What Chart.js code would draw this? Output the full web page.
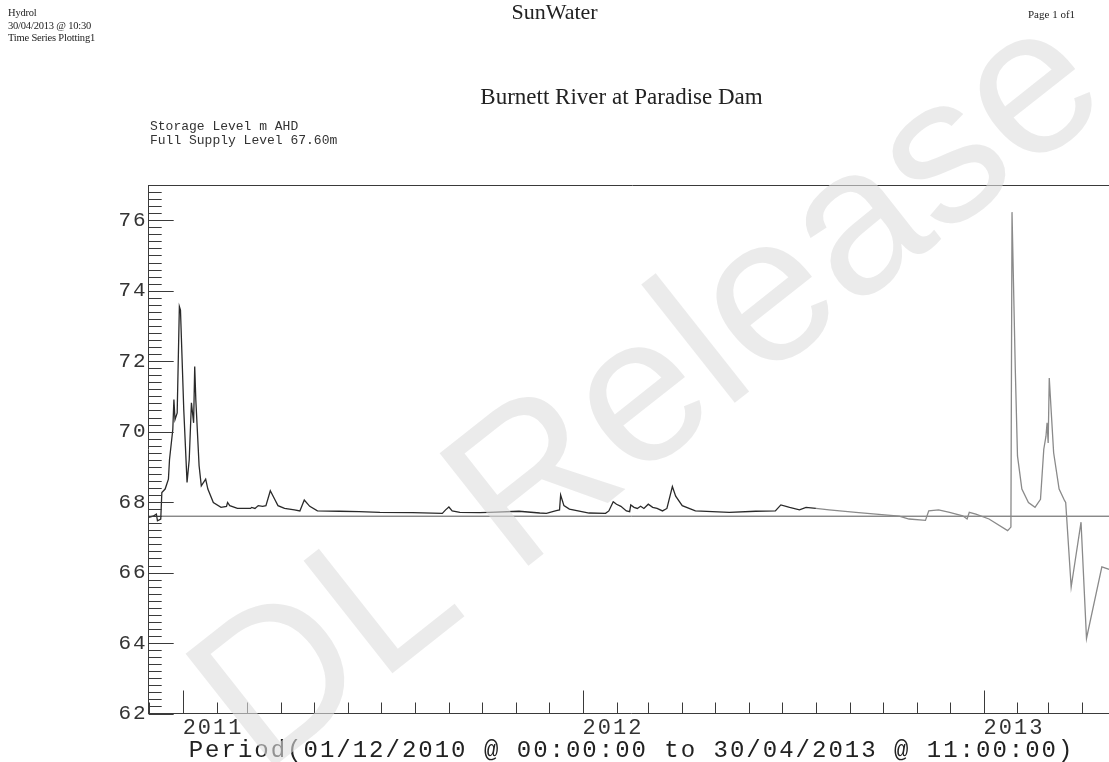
<!DOCTYPE html>
<html>
<head>
<meta charset="utf-8">
<title>Burnett River at Paradise Dam</title>
<script src="https://cdn.jsdelivr.net/npm/chart.js@4.4.1/dist/chart.umd.min.js"></script>
<style>
  html, body { margin: 0; padding: 0; background: #fff; overflow: hidden; }
  #page { position: relative; width: 1109px; height: 762px; overflow: hidden; }
  .serif { position: absolute; font-family: "Liberation Serif", "Times New Roman", serif; color: #222; white-space: nowrap; }
  .mono { position: absolute; font-family: "Liberation Mono", "Courier New", monospace; color: #333; white-space: nowrap; }
  canvas { position: absolute; left: 0; top: 0; }
</style>
</head>
<body>
<div id="page">
  <canvas id="levelChart" width="1116" height="762"></canvas>
  <div class="serif" style="left:8px;top:7px;font-size:10.5px;line-height:12.5px;letter-spacing:-0.2px">Hydrol<br>30/04/2013 @ 10:30<br>Time Series Plotting1</div>
  <div class="serif" style="left:0;top:0;width:1109px;text-align:center;font-size:22px;line-height:24px">SunWater</div>
  <div class="serif" style="left:1028px;top:8px;font-size:11px;line-height:13px">Page 1 of1</div>
  <div class="serif" style="left:0;top:85px;width:1243px;text-align:center;font-size:23px;line-height:24px">Burnett River at Paradise Dam</div>
  <div class="mono" style="left:150px;top:120px;font-size:13px;line-height:14px">Storage Level m AHD<br>Full Supply Level 67.60m</div>
</div>
<script>
// storage level series (m AHD)
const dates = [
  "2010-12-01","2010-12-05","2010-12-08","2010-12-09","2010-12-12","2010-12-13","2010-12-16","2010-12-19","2010-12-20","2010-12-23","2010-12-24","2010-12-25","2010-12-27","2010-12-29","2010-12-30",
  "2011-01-02","2011-01-05","2011-01-07","2011-01-09","2011-01-11","2011-01-12","2011-01-13","2011-01-16","2011-01-18","2011-01-22","2011-01-24","2011-01-29",
  "2011-02-05","2011-02-10","2011-02-11","2011-02-13","2011-02-20",
  "2011-03-04","2011-03-05","2011-03-08","2011-03-11","2011-03-15","2011-03-18","2011-03-22","2011-03-26","2011-03-29",
  "2011-04-04","2011-04-13","2011-04-18","2011-04-22","2011-04-27",
  "2011-05-04","2011-05-24","2011-06-11","2011-06-30","2011-07-30","2011-08-26","2011-08-29","2011-09-01","2011-09-04","2011-09-11","2011-09-29","2011-10-08","2011-11-04","2011-11-23","2011-11-29",
  "2011-12-08","2011-12-11","2011-12-12","2011-12-15","2011-12-20",
  "2012-01-07","2012-01-22","2012-01-25","2012-01-29","2012-02-01","2012-02-05","2012-02-10","2012-02-13","2012-02-14","2012-02-17","2012-02-20","2012-02-23","2012-02-26","2012-03-01","2012-03-05","2012-03-09","2012-03-14","2012-03-18","2012-03-23","2012-03-26","2012-04-01","2012-04-13","2012-05-14","2012-06-07","2012-06-25","2012-06-30","2012-07-08","2012-07-17","2012-07-23","2012-08-01","2012-08-13",
  "2012-09-09","2012-10-16","2012-10-25","2012-11-09","2012-11-12","2012-11-21","2012-12-01","2012-12-13","2012-12-17","2012-12-19","2012-12-25",
  "2013-01-06","2013-01-23","2013-01-26","2013-01-27","2013-01-30","2013-02-01","2013-02-05","2013-02-11","2013-02-17","2013-02-22","2013-02-25","2013-02-27","2013-02-28","2013-03-01","2013-03-02","2013-03-06","2013-03-11","2013-03-16","2013-03-17","2013-03-22","2013-03-31","2013-04-05","2013-04-19","2013-04-25","2013-04-30"
];
const levels = [
  67.57,67.60,67.66,67.47,67.52,68.27,68.37,68.65,69.21,70.06,70.91,70.34,70.53,73.55,73.45,
  70.63,68.56,69.21,70.82,70.25,71.85,70.91,69.03,68.46,68.65,68.37,67.99,
  67.85,67.88,67.99,67.90,67.82,
  67.82,67.85,67.82,67.90,67.88,67.90,68.32,68.08,67.90,
  67.82,67.78,67.75,68.06,67.88,
  67.75,67.74,67.73,67.71,67.70,67.68,67.78,67.86,67.75,67.71,67.70,67.71,67.74,67.69,67.68,
  67.76,67.78,68.20,67.90,67.80,
  67.69,67.68,67.75,68.01,67.94,67.88,67.75,67.73,67.92,67.85,67.82,67.88,67.82,67.94,67.85,67.82,67.75,67.82,68.44,68.17,67.90,67.75,67.71,67.74,67.75,67.92,67.85,67.78,67.85,67.82,67.78,
  67.70,67.60,67.52,67.48,67.75,67.78,67.71,67.61,67.52,67.71,67.66,
  67.52,67.19,67.29,76.23,71.76,69.31,68.37,67.99,67.85,68.08,69.50,69.87,70.25,69.68,71.52,69.40,68.37,68.04,67.99,65.59,67.43,64.13,66.16,66.10,66.00
];
const fullSupplyLevel = 67.6;
const yTickValues = [62, 64, 66, 68, 70, 72, 74, 76];
const periodStart = Date.UTC(2010, 11, 1, 0);
const periodEnd = Date.UTC(2013, 3, 30, 11);
const periodLabel = "Period(01/12/2010 @ 00:00:00 to 30/04/2013 @ 11:00:00)";
const greyFrom = Date.parse("2012-08-01");

// one tick per month, labels only on January
const monthTicks = [];
for (let y = 2010, m = 11; Date.UTC(y, m, 1) <= periodEnd; m++) {
  if (m > 11) { m = 0; y++; }
  monthTicks.push(Date.UTC(y, m, 1));
}

const levelPoints = dates.map((d, i) => ({ x: Date.parse(d), y: levels[i] }));
const fslPoints = [{ x: periodStart, y: fullSupplyLevel }, { x: periodEnd, y: fullSupplyLevel }];

const monoFont = '"Liberation Mono", "Courier New", monospace';

const scanPlugin = {
  id: "scanPlugin",
  beforeDraw(chart) { chart.ctx.letterSpacing = "2px"; },
  beforeDatasetsDraw(chart) { chart.ctx.letterSpacing = "0px"; },
  afterDraw(chart) {
    const { ctx, chartArea: a, scales: { x, y } } = chart;
    ctx.save();
    ctx.strokeStyle = "#3a3a3a";
    ctx.lineWidth = 1;
    ctx.beginPath();
    // frame line along the top
    const top = Math.round(a.top) + 0.5;
    ctx.moveTo(a.left, top);
    ctx.lineTo(chart.width, top);
    // y ticks, pointing into the plot
    for (let i = 0; i <= 75; i++) {
      const py = Math.round(y.getPixelForValue(62 + i * 0.2)) + 0.5;
      ctx.moveTo(a.left, py);
      ctx.lineTo(a.left + (i % 10 === 0 ? 25 : 13), py);
    }
    // month ticks, years taller
    monthTicks.forEach(t => {
      const px = Math.round(x.getPixelForValue(t)) + 0.5;
      const jan = new Date(t).getUTCMonth() === 0;
      ctx.moveTo(px, a.bottom);
      ctx.lineTo(px, a.bottom - (jan ? 23 : 11));
    });
    ctx.stroke();

    // watermark
    ctx.translate(652, 395);
    ctx.rotate(-38.3 * Math.PI / 180);
    ctx.font = '208px "Liberation Sans", Arial, sans-serif';
    ctx.textAlign = "center";
    ctx.textBaseline = "middle";
    ctx.fillStyle = "rgba(222,222,222,0.6)";
    ctx.fillText("DL Release", 0, 0);
    ctx.restore();
  }
};

new Chart(document.getElementById("levelChart"), {
  type: "line",
  data: {
    datasets: [
      {
        label: "Storage Level m AHD",
        data: levelPoints,
        borderColor: "#2a2a2a",
        borderWidth: 1.3,
        pointRadius: 0,
        tension: 0,
        segment: {
          borderColor: c => c.p0.parsed.x >= greyFrom ? "#8a8a8a" : "#2a2a2a"
        }
      },
      {
        label: "Full Supply Level",
        data: fslPoints,
        borderColor: "#555",
        borderWidth: 1,
        pointRadius: 0
      }
    ]
  },
  options: {
    responsive: false,
    animation: false,
    events: [],
    layout: { padding: { top: 185, right: 1.6, left: 0, bottom: 0 } },
    plugins: { legend: { display: false }, tooltip: { enabled: false } },
    scales: {
      x: {
        type: "linear",
        min: periodStart,
        max: periodEnd,
        grid: { display: false, drawTicks: false },
        border: { display: true, color: "#3a3a3a", width: 1 },
        afterBuildTicks: s => { s.ticks = monthTicks.map(v => ({ value: v })); },
        afterFit: s => { s.height = 48.5; },
        ticks: {
          autoSkip: false,
          maxRotation: 0,
          minRotation: 0,
          align: "start",
          padding: 1,
          color: "#333",
          font: { family: monoFont, size: 22 },
          callback: v => {
            const d = new Date(v);
            return d.getUTCMonth() === 0 ? String(d.getUTCFullYear()) : "";
          }
        },
        title: {
          display: true,
          text: periodLabel,
          color: "#222",
          padding: { top: 0, bottom: -1 },
          font: { family: monoFont, size: 24, lineHeight: 1 }
        }
      },
      y: {
        min: 62,
        max: 77,
        grid: { display: false, drawTicks: false },
        border: { display: true, color: "#3a3a3a", width: 1 },
        afterBuildTicks: s => { s.ticks = yTickValues.map(v => ({ value: v })); },
        afterFit: s => { s.width = 148.7; },
        ticks: {
          padding: 1,
          color: "#333",
          font: { family: monoFont, size: 21 }
        }
      }
    }
  },
  plugins: [scanPlugin]
});
</script>
</body>
</html>
